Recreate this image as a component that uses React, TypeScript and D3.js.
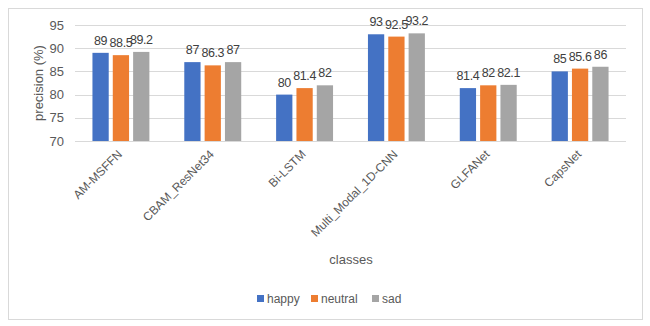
import React from "react";
import * as d3 from "d3";

const categories = ["AM-MSFFN", "CBAM_ResNet34", "Bi-LSTM", "Multi_Modal_1D-CNN", "GLFANet", "CapsNet"];
const seriesNames = ["happy", "neutral", "sad"];
const happy = [89, 87, 80, 93, 81.4, 85];
const neutral = [88.5, 86.3, 81.4, 92.5, 82, 85.6];
const sad = [89.2, 87, 82, 93.2, 82.1, 86];
const yTicks = [70, 75, 80, 85, 90, 95];
const colors = ["#4472C4", "#ED7D31", "#A5A5A5"];

const W = 650;
const H = 326;
const font = "'Liberation Sans', Arial, sans-serif";

export default function App() {
  const svgRef = React.useRef<SVGSVGElement>(null);

  React.useEffect(() => {
    const svg = d3.select(svgRef.current);
    svg.selectAll("*").remove();

    const values = [happy, neutral, sad];
    const x = d3.scaleBand().domain(categories).range([75, 626]);
    const y = d3.scaleLinear().domain([70, 95]).range([141, 25]);
    const groupW = x.bandwidth() * 0.62;
    const inner = d3.scaleBand().domain(seriesNames).range([0, groupW]).paddingInner(0.2);
    const barX = (c: string, s: string) =>
      (x(c) as number) + (x.bandwidth() - groupW) / 2 + (inner(s) as number);

    // outer frame
    svg.append("rect")
      .attr("x", 8.5).attr("y", 8.5)
      .attr("width", 634).attr("height", 311)
      .attr("fill", "#fff").attr("stroke", "#d9d9d9");

    // grid
    svg.append("g").selectAll("line").data(yTicks).enter().append("line")
      .attr("x1", 75).attr("x2", 626)
      .attr("y1", (d) => Math.round(y(d)) + 0.5).attr("y2", (d) => Math.round(y(d)) + 0.5)
      .attr("stroke", "#d9d9d9").attr("stroke-width", 1);

    svg.append("g").selectAll("text").data(yTicks).enter().append("text")
      .attr("x", 64).attr("y", (d) => y(d) + 4.5)
      .attr("text-anchor", "end")
      .attr("font-family", font).attr("font-size", 13).attr("fill", "#595959")
      .text((d) => d);

    svg.append("text")
      .attr("transform", `translate(43,${(y(70) + y(95)) / 2}) rotate(-90)`)
      .attr("text-anchor", "middle")
      .attr("font-family", font).attr("font-size", 13).attr("fill", "#595959")
      .text("precision (%)");

    // bars
    seriesNames.forEach((s, si) => {
      const g = svg.append("g");
      g.selectAll("rect").data(categories).enter().append("rect")
        .attr("x", (c) => barX(c, s))
        .attr("y", (c, i) => y(values[si][i]))
        .attr("width", inner.bandwidth())
        .attr("height", (c, i) => y(70) - y(values[si][i]))
        .attr("fill", colors[si]);
      g.selectAll("text").data(categories).enter().append("text")
        .attr("x", (c) => barX(c, s) + inner.bandwidth() / 2)
        .attr("y", (c, i) => y(values[si][i]) - 8)
        .attr("text-anchor", "middle")
        .attr("font-family", font).attr("font-size", 12.5).attr("letter-spacing", -0.4)
        .attr("fill", "#404040")
        .text((c, i) => values[si][i]);
    });

    // x labels
    svg.append("g").selectAll("text").data(categories).enter().append("text")
      .attr("transform", (c) => `translate(${(x(c) as number) + x.bandwidth() / 2 + 2},${155}) rotate(-45)`)
      .attr("text-anchor", "end")
      .attr("font-family", font).attr("font-size", 12).attr("fill", "#595959")
      .text((c) => c);

    svg.append("text")
      .attr("x", 351).attr("y", 264)
      .attr("text-anchor", "middle")
      .attr("font-family", font).attr("font-size", 13).attr("fill", "#595959")
      .text("classes");

    // legend
    const legendX = [257, 311, 372];
    seriesNames.forEach((s, i) => {
      svg.append("rect")
        .attr("x", legendX[i]).attr("y", 295)
        .attr("width", 7).attr("height", 7)
        .attr("fill", colors[i]);
      svg.append("text")
        .attr("x", legendX[i] + 10).attr("y", 303)
        .attr("font-family", font).attr("font-size", 12).attr("fill", "#595959")
        .text(s);
    });
  }, []);

  return (
    <svg ref={svgRef} width={W} height={H} style={{ position: "absolute", left: 0, top: 0 }} />
  );
}
